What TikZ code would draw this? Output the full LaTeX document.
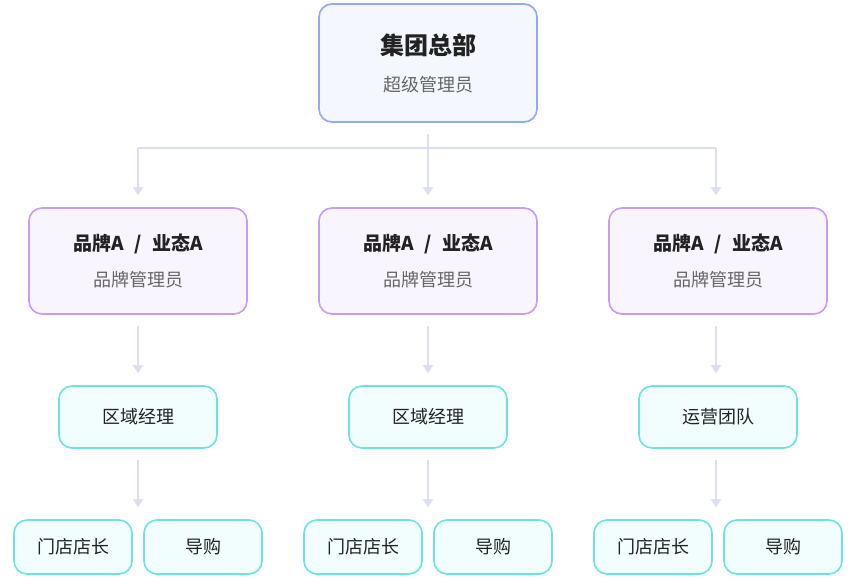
\documentclass[tikz,border=0pt]{standalone}
\usepackage{fontspec}
\setmainfont{Noto Sans CJK SC}
\usepackage{xcolor}
\usepackage{tikz}
\usetikzlibrary{positioning,arrows.meta}
\definecolor{hqline}{HTML}{91A9F5}
\definecolor{hqfill}{HTML}{F5F7FF}
\definecolor{brandline}{HTML}{C69DF5}
\definecolor{brandfill}{HTML}{F9F5FF}
\definecolor{teamline}{HTML}{6BE3E3}
\definecolor{teamfill}{HTML}{F2FEFE}
\definecolor{linkc}{HTML}{DCDFF0}
\definecolor{titlec}{HTML}{222222}
\definecolor{subc}{HTML}{666666}
\newcommand{\brandtitle}{{\bfseries\fontsize{19}{36}\selectfont 品牌A\hspace{0.55em}/\hspace{0.55em}业态A}}

\begin{document}
\begin{tikzpicture}[x=1pt,y=-1pt,on grid,
    box/.style={draw,rounded corners=13pt,line width=1.6pt,align=center,inner sep=0pt,text=titlec},
    hqbox/.style={box,draw=hqline,fill=hqfill,minimum width=218pt,minimum height=118pt,
        font=\fontsize{18}{37}\selectfont},
    brandbox/.style={box,draw=brandline,fill=brandfill,minimum width=218pt,minimum height=106pt,
        font=\fontsize{18}{36}\selectfont},
    teambox/.style={box,draw=teamline,fill=teamfill,minimum width=158pt,minimum height=62pt,
        font=\fontsize{18}{22}\selectfont},
    shopbox/.style={teambox,minimum width=118pt,minimum height=54pt},
    link/.style={draw=linkc,line width=1.8pt},
    arr/.style={link,-{Triangle[width=10pt,length=8pt]},shorten <=11pt,shorten >=12pt}]
    \useasboundingbox[fill=white] (0,0) rectangle (852,579);

    % group level
    \node[hqbox]    (hq)  at (428,63)        {{\bfseries\fontsize{24}{37}\selectfont 集团总部}\\{\color{subc}超级管理员}};
    \coordinate     (hub) at (428,148);

    % brands
    \node[brandbox] (b_2) [below=198pt of hq]  {\brandtitle\\{\color{subc}品牌管理员}};
    \node[brandbox] (b_1) [left=290pt of b_2]  {\brandtitle\\{\color{subc}品牌管理员}};
    \node[brandbox] (b_3) [right=290pt of b_2] {\brandtitle\\{\color{subc}品牌管理员}};

    % teams
    \node[teambox]  (t_1) [below=156pt of b_1] {区域经理};
    \node[teambox]  (t_2) [below=156pt of b_2] {区域经理};
    \node[teambox]  (t_3) [below=156pt of b_3] {运营团队};

    % shops
    \node[shopbox]  (s_1a) [below left=130pt and 65pt of t_1]  {门店店长};
    \node[shopbox]  (s_1b) [below right=130pt and 65pt of t_1] {导购};
    \node[shopbox]  (s_2a) [below left=130pt and 65pt of t_2]  {门店店长};
    \node[shopbox]  (s_2b) [below right=130pt and 65pt of t_2] {导购};
    \node[shopbox]  (s_3a) [below left=130pt and 65pt of t_3]  {门店店长};
    \node[shopbox]  (s_3b) [below right=130pt and 65pt of t_3] {导购};

    % connectors
    \coordinate (d_1) at (b_1.south |- s_1a.north);
    \coordinate (d_2) at (b_2.south |- s_2a.north);
    \coordinate (d_3) at ([xshift=-2pt]b_3.south |- s_3a.north);
    \coordinate (u_3) at ([xshift=-2pt]hub -| b_3);

    \path[link,shorten <=11pt] (hq) -- (hub);
    \path[link] (hub -| b_1) -- (u_3);

    \path[arr,shorten <=0pt] (hub -| b_1) -- (b_1);
    \path[arr,shorten <=0pt] (hub)        -- (b_2);
    \path[arr,shorten <=0pt] (u_3)        -- (u_3 |- b_3.north);

    \path[arr] (b_1) -- (t_1);
    \path[arr] (b_2) -- (t_2);
    \path[arr] ([xshift=-2pt]b_3.south) -- ([xshift=-2pt]t_3.north);

    \path[arr] (t_1) -- (d_1);
    \path[arr] (t_2) -- (d_2);
    \path[arr] ([xshift=-2pt]t_3.south) -- (d_3);
\end{tikzpicture}
\end{document}
